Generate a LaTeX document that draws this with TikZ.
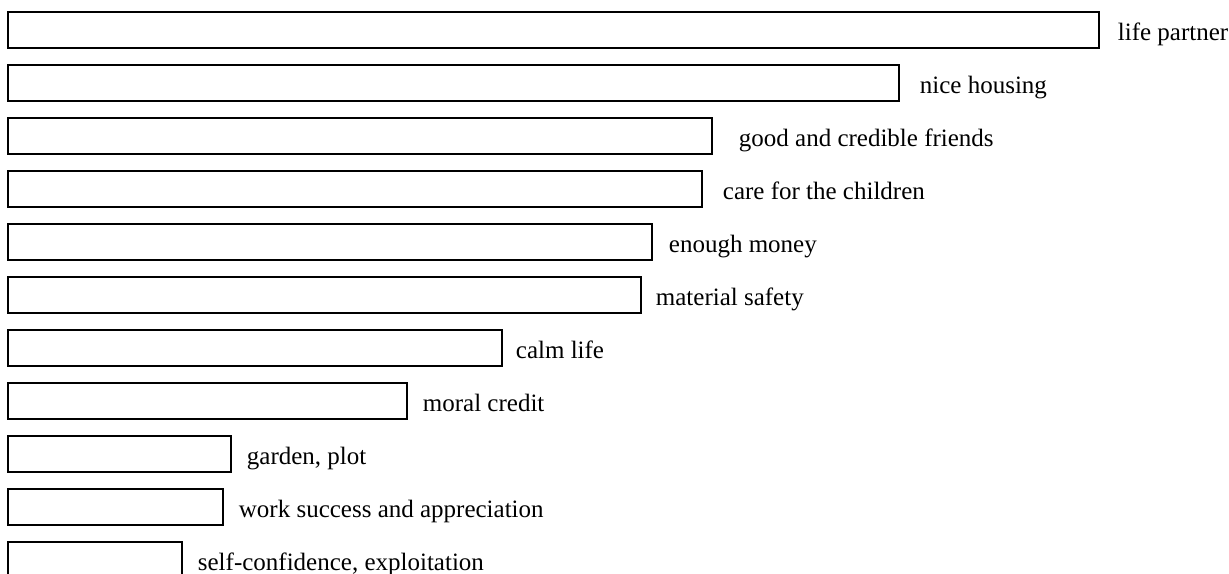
\documentclass[tikz,border=0pt]{standalone}
\usepackage{fontspec}
\setmainfont{Liberation Serif}

\begin{document}
\begin{tikzpicture}[x=1pt, y=-1pt, line width=1.8pt]
		\useasboundingbox (0, 0) rectangle (1229, 573);

		\foreach \i/\len/\tx/\lab in {0/1099/1117/{life partner}, 1/899/919/{nice housing},
				2/712/738/{good and credible friends}, 3/702/722/{care for the children},
				4/652/668/{enough money}, 5/641/655/{material safety}, 6/502/515/{calm life},
				7/407/422/{moral credit}, 8/231/246/{garden, plot},
				9/223/238/{work success and appreciation}, 10/182/197/{self-confidence, exploitation}}
			{
				\draw (8, 12 + 53*\i) rectangle (\len, 48 + 53*\i);
				\node[anchor=base west, inner sep=0, font=\fontsize{25}{30}\selectfont] (lab\i) at (\tx, 40 + 53*\i) {\lab};
			}

	\end{tikzpicture}
\end{document}
